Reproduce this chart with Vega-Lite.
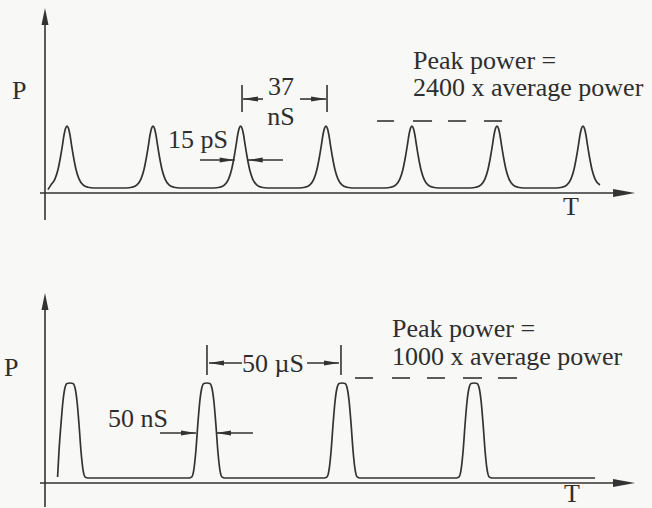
{
  "$schema": "https://vega.github.io/schema/vega-lite/v6.json",
  "background": "#f8f8f6",
  "padding": 0,
  "spacing": 0,
  "config": {"view": {"stroke": null}, "text": {"font": "Liberation Serif, Times New Roman, DejaVu Serif, serif"}},
  "resolve": {"scale": {"x": "independent", "y": "independent"}},
  "datasets": {
    "topTrace": [
      {"x": -8.2, "y": 0.05}, {"x": -6.9, "y": 0.122}, {"x": -5.2, "y": 0.208}, {"x": -3.9, "y": 0.348}, {"x": -2.8, "y": 0.538}, {"x": -1.9, "y": 0.726}, {"x": -1.3, "y": 0.862}, {"x": -0.65, "y": 0.963}, {"x": 0, "y": 1.0}, {"x": 0.65, "y": 0.963}, {"x": 1.3, "y": 0.862}, {"x": 1.9, "y": 0.726}, {"x": 2.8, "y": 0.538}, {"x": 3.9, "y": 0.348}, {"x": 5.2, "y": 0.208}, {"x": 6.9, "y": 0.122}, {"x": 9.0, "y": 0.087}, {"x": 11.6, "y": 0.075},
      {"x": 25.4, "y": 0.075}, {"x": 28.0, "y": 0.087}, {"x": 30.1, "y": 0.122}, {"x": 31.8, "y": 0.208}, {"x": 33.1, "y": 0.348}, {"x": 34.2, "y": 0.538}, {"x": 35.1, "y": 0.726}, {"x": 35.7, "y": 0.862}, {"x": 36.35, "y": 0.963}, {"x": 37, "y": 1.0}, {"x": 37.65, "y": 0.963}, {"x": 38.3, "y": 0.862}, {"x": 38.9, "y": 0.726}, {"x": 39.8, "y": 0.538}, {"x": 40.9, "y": 0.348}, {"x": 42.2, "y": 0.208}, {"x": 43.9, "y": 0.122}, {"x": 46.0, "y": 0.087}, {"x": 48.6, "y": 0.075},
      {"x": 63.1, "y": 0.075}, {"x": 65.7, "y": 0.087}, {"x": 67.8, "y": 0.122}, {"x": 69.5, "y": 0.208}, {"x": 70.8, "y": 0.348}, {"x": 71.9, "y": 0.538}, {"x": 72.8, "y": 0.726}, {"x": 73.4, "y": 0.862}, {"x": 74.05, "y": 0.963}, {"x": 74.7, "y": 1.0}, {"x": 75.35, "y": 0.963}, {"x": 76.0, "y": 0.862}, {"x": 76.6, "y": 0.726}, {"x": 77.5, "y": 0.538}, {"x": 78.6, "y": 0.348}, {"x": 79.9, "y": 0.208}, {"x": 81.6, "y": 0.122}, {"x": 83.7, "y": 0.087}, {"x": 86.3, "y": 0.075},
      {"x": 99.8, "y": 0.075}, {"x": 102.4, "y": 0.087}, {"x": 104.5, "y": 0.122}, {"x": 106.2, "y": 0.208}, {"x": 107.5, "y": 0.348}, {"x": 108.6, "y": 0.538}, {"x": 109.5, "y": 0.726}, {"x": 110.1, "y": 0.862}, {"x": 110.75, "y": 0.963}, {"x": 111.4, "y": 1.0}, {"x": 112.05, "y": 0.963}, {"x": 112.7, "y": 0.862}, {"x": 113.3, "y": 0.726}, {"x": 114.2, "y": 0.538}, {"x": 115.3, "y": 0.348}, {"x": 116.6, "y": 0.208}, {"x": 118.3, "y": 0.122}, {"x": 120.4, "y": 0.087}, {"x": 123.0, "y": 0.075},
      {"x": 136.8, "y": 0.075}, {"x": 139.4, "y": 0.087}, {"x": 141.5, "y": 0.122}, {"x": 143.2, "y": 0.208}, {"x": 144.5, "y": 0.348}, {"x": 145.6, "y": 0.538}, {"x": 146.5, "y": 0.726}, {"x": 147.1, "y": 0.862}, {"x": 147.75, "y": 0.963}, {"x": 148.4, "y": 1.0}, {"x": 149.05, "y": 0.963}, {"x": 149.7, "y": 0.862}, {"x": 150.3, "y": 0.726}, {"x": 151.2, "y": 0.538}, {"x": 152.3, "y": 0.348}, {"x": 153.6, "y": 0.208}, {"x": 155.3, "y": 0.122}, {"x": 157.4, "y": 0.087}, {"x": 160.0, "y": 0.075},
      {"x": 173.4, "y": 0.075}, {"x": 176.0, "y": 0.087}, {"x": 178.1, "y": 0.122}, {"x": 179.8, "y": 0.208}, {"x": 181.1, "y": 0.348}, {"x": 182.2, "y": 0.538}, {"x": 183.1, "y": 0.726}, {"x": 183.7, "y": 0.862}, {"x": 184.35, "y": 0.963}, {"x": 185, "y": 1.0}, {"x": 185.65, "y": 0.963}, {"x": 186.3, "y": 0.862}, {"x": 186.9, "y": 0.726}, {"x": 187.8, "y": 0.538}, {"x": 188.9, "y": 0.348}, {"x": 190.2, "y": 0.208}, {"x": 191.9, "y": 0.122}, {"x": 194.0, "y": 0.087}, {"x": 196.6, "y": 0.075},
      {"x": 210.4, "y": 0.075}, {"x": 213.0, "y": 0.087}, {"x": 215.1, "y": 0.122}, {"x": 216.8, "y": 0.208}, {"x": 218.1, "y": 0.348}, {"x": 219.2, "y": 0.538}, {"x": 220.1, "y": 0.726}, {"x": 220.7, "y": 0.862}, {"x": 221.35, "y": 0.963}, {"x": 222, "y": 1.0}, {"x": 222.65, "y": 0.963}, {"x": 223.3, "y": 0.862}, {"x": 223.9, "y": 0.726}, {"x": 224.8, "y": 0.538}, {"x": 225.9, "y": 0.348}, {"x": 227.2, "y": 0.208}, {"x": 229.3, "y": 0.12}
    ],
    "botTrace": [
      {"x": -4.6, "y": 0.06}, {"x": -4.08, "y": 0.32}, {"x": -3.34, "y": 0.59}, {"x": -2.6, "y": 0.82}, {"x": -1.86, "y": 0.9525}, {"x": -1.11, "y": 0.995}, {"x": 0, "y": 1.0}, {"x": 1.11, "y": 0.995}, {"x": 1.86, "y": 0.9525}, {"x": 2.6, "y": 0.82}, {"x": 3.34, "y": 0.59}, {"x": 4.08, "y": 0.32}, {"x": 4.83, "y": 0.133}, {"x": 5.57, "y": 0.062}, {"x": 6.68, "y": 0.05},
      {"x": 44.12, "y": 0.05}, {"x": 45.23, "y": 0.062}, {"x": 45.97, "y": 0.133}, {"x": 46.72, "y": 0.32}, {"x": 47.46, "y": 0.59}, {"x": 48.2, "y": 0.82}, {"x": 48.94, "y": 0.9525}, {"x": 49.69, "y": 0.995}, {"x": 50.8, "y": 1.0}, {"x": 51.91, "y": 0.995}, {"x": 52.66, "y": 0.9525}, {"x": 53.4, "y": 0.82}, {"x": 54.14, "y": 0.59}, {"x": 54.88, "y": 0.32}, {"x": 55.63, "y": 0.133}, {"x": 56.37, "y": 0.062}, {"x": 57.48, "y": 0.05},
      {"x": 94.32, "y": 0.05}, {"x": 95.43, "y": 0.062}, {"x": 96.17, "y": 0.133}, {"x": 96.92, "y": 0.32}, {"x": 97.66, "y": 0.59}, {"x": 98.4, "y": 0.82}, {"x": 99.14, "y": 0.9525}, {"x": 99.89, "y": 0.995}, {"x": 101, "y": 1.0}, {"x": 102.11, "y": 0.995}, {"x": 102.86, "y": 0.9525}, {"x": 103.6, "y": 0.82}, {"x": 104.34, "y": 0.59}, {"x": 105.08, "y": 0.32}, {"x": 105.83, "y": 0.133}, {"x": 106.57, "y": 0.062}, {"x": 107.68, "y": 0.05},
      {"x": 143.32, "y": 0.05}, {"x": 144.43, "y": 0.062}, {"x": 145.17, "y": 0.133}, {"x": 145.92, "y": 0.32}, {"x": 146.66, "y": 0.59}, {"x": 147.4, "y": 0.82}, {"x": 148.14, "y": 0.9525}, {"x": 148.89, "y": 0.995}, {"x": 150, "y": 1.0}, {"x": 151.11, "y": 0.995}, {"x": 151.86, "y": 0.9525}, {"x": 152.6, "y": 0.82}, {"x": 153.34, "y": 0.59}, {"x": 154.08, "y": 0.32}, {"x": 154.83, "y": 0.133}, {"x": 155.57, "y": 0.062}, {"x": 156.68, "y": 0.05},
      {"x": 194.9, "y": 0.05}
    ],
    "topRules": [
      {"x": -9.47, "x2": -9.47, "y": -0.403, "y2": 2.62},
      {"x": -11.62, "x2": 240, "y": 0, "y2": 0},
      {"x": 75.3, "x2": 75.3, "y": 1.209, "y2": 1.612},
      {"x": 111.88, "x2": 111.88, "y": 1.209, "y2": 1.612},
      {"x": 75.73, "x2": 84.34, "y": 1.403, "y2": 1.403},
      {"x": 100.26, "x2": 111.45, "y": 1.403, "y2": 1.403},
      {"x": 57.23, "x2": 72.16, "y": 0.4925, "y2": 0.4925},
      {"x": 77.76, "x2": 92.94, "y": 0.4925, "y2": 0.4925},
      {"x": 133.39, "x2": 140.71, "y": 1.075, "y2": 1.075},
      {"x": 148.88, "x2": 157.06, "y": 1.075, "y2": 1.075},
      {"x": 163.94, "x2": 171.69, "y": 1.075, "y2": 1.075},
      {"x": 179.43, "x2": 187.18, "y": 1.075, "y2": 1.075}
    ],
    "botRules": [
      {"x": -9.28, "x2": -9.28, "y": -0.24, "y2": 1.75},
      {"x": -11.14, "x2": 205.7, "y": 0, "y2": 0},
      {"x": 50.85, "x2": 50.85, "y": 1.08, "y2": 1.38},
      {"x": 100.59, "x2": 100.59, "y": 1.08, "y2": 1.38},
      {"x": 51.6, "x2": 63.85, "y": 1.2, "y2": 1.2},
      {"x": 87.97, "x2": 99.85, "y": 1.2, "y2": 1.2},
      {"x": 33.41, "x2": 46.77, "y": 0.5, "y2": 0.5},
      {"x": 54.19, "x2": 67.93, "y": 0.5, "y2": 0.5},
      {"x": 105.79, "x2": 112.47, "y": 1.05, "y2": 1.05},
      {"x": 119.52, "x2": 126.21, "y": 1.05, "y2": 1.05},
      {"x": 132.52, "x2": 139.2, "y": 1.05, "y2": 1.05},
      {"x": 145.88, "x2": 152.93, "y": 1.05, "y2": 1.05},
      {"x": 158.87, "x2": 165.92, "y": 1.05, "y2": 1.05}
    ],
    "topHeads": [
      {"x": -9.47, "y": 2.761, "s": "up"},
      {"x": 244.4, "y": 0, "s": "axisRight"},
      {"x": 75.73, "y": 1.403, "s": "left"},
      {"x": 111.45, "y": 1.403, "s": "right"},
      {"x": 72.16, "y": 0.4925, "s": "right"},
      {"x": 77.76, "y": 0.4925, "s": "left"}
    ],
    "botHeads": [
      {"x": -9.28, "y": 1.9, "s": "up"},
      {"x": 209.73, "y": 0, "s": "axisRight"},
      {"x": 51.6, "y": 1.2, "s": "left"},
      {"x": 99.85, "y": 1.2, "s": "right"},
      {"x": 46.77, "y": 0.5, "s": "right"},
      {"x": 54.19, "y": 0.5, "s": "left"}
    ],
    "topTextL": [
      {"x": -23.67, "y": 1.403, "label": "P"},
      {"x": 148.88, "y": 1.851, "label": "Peak power ="},
      {"x": 148.88, "y": 1.448, "label": "2400 x average power"}
    ],
    "topTextC": [
      {"x": 216.87, "y": -0.328, "label": "T"},
      {"x": 56.37, "y": 0.672, "label": "15 pS"},
      {"x": 92.08, "y": 1.463, "label": "37"},
      {"x": 92.08, "y": 1.015, "label": "nS"}
    ],
    "botTextL": [
      {"x": -24.5, "y": 1.07, "label": "P"},
      {"x": 119.5, "y": 1.46, "label": "Peak power ="},
      {"x": 119.5, "y": 1.18, "label": "1000 x average power"}
    ],
    "botTextC": [
      {"x": 186.3, "y": -0.19, "label": "T"},
      {"x": 25.24, "y": 0.56, "label": "50 nS"},
      {"x": 75.36, "y": 1.11, "label": "50 µS"}
    ]
  },
  "vconcat": [
    {
      "width": 652,
      "height": 254,
      "encoding": {
        "x": {"field": "x", "type": "quantitative", "scale": {"domain": [-28.83, 251.7], "nice": false, "zero": false}, "axis": null},
        "y": {"field": "y", "type": "quantitative", "scale": {"domain": [-0.91, 2.881], "nice": false, "zero": false}, "axis": null}
      },
      "layer": [
        {"data": {"name": "topTrace"}, "mark": {"type": "line", "interpolate": "monotone", "color": "#333333", "strokeWidth": 1.7}},
        {"data": {"name": "topRules"}, "mark": {"type": "rule", "color": "#333333", "strokeWidth": 1.6}, "encoding": {"x2": {"field": "x2"}, "y2": {"field": "y2"}}},
        {"data": {"name": "topHeads"}, "mark": {"type": "point", "filled": true, "opacity": 1, "color": "#333333", "size": 100, "strokeWidth": 0},
          "encoding": {"shape": {"field": "s", "type": "nominal", "legend": null, "scale": {"domain": ["up", "axisRight", "right", "left"], "range": ["M0,0L0.7,3.4L-0.7,3.4Z", "M0,0L-4.4,-0.8L-4.4,0.8Z", "M0,0L-3,-0.5L-3,0.5Z", "M0,0L3,-0.5L3,0.5Z"]}}}},
        {"data": {"name": "topTextL"}, "mark": {"type": "text", "align": "left", "baseline": "alphabetic", "font": "Liberation Serif, Times New Roman, DejaVu Serif, serif", "fontSize": 26, "color": "#2e2e2e"}, "encoding": {"text": {"field": "label"}}},
        {"data": {"name": "topTextC"}, "mark": {"type": "text", "align": "center", "baseline": "alphabetic", "font": "Liberation Serif, Times New Roman, DejaVu Serif, serif", "fontSize": 26, "color": "#2e2e2e"}, "encoding": {"text": {"field": "label"}}}
      ]
    },
    {
      "width": 652,
      "height": 254,
      "encoding": {
        "x": {"field": "x", "type": "quantitative", "scale": {"domain": [-25.98, 216.04], "nice": false, "zero": false}, "axis": null},
        "y": {"field": "y", "type": "quantitative", "scale": {"domain": [-0.25, 2.29], "nice": false, "zero": false}, "axis": null}
      },
      "layer": [
        {"data": {"name": "botTrace"}, "mark": {"type": "line", "interpolate": "monotone", "color": "#333333", "strokeWidth": 1.7}},
        {"data": {"name": "botRules"}, "mark": {"type": "rule", "color": "#333333", "strokeWidth": 1.6}, "encoding": {"x2": {"field": "x2"}, "y2": {"field": "y2"}}},
        {"data": {"name": "botHeads"}, "mark": {"type": "point", "filled": true, "opacity": 1, "color": "#333333", "size": 100, "strokeWidth": 0},
          "encoding": {"shape": {"field": "s", "type": "nominal", "legend": null, "scale": {"domain": ["up", "axisRight", "right", "left"], "range": ["M0,0L0.7,3.4L-0.7,3.4Z", "M0,0L-4.4,-0.8L-4.4,0.8Z", "M0,0L-3,-0.5L-3,0.5Z", "M0,0L3,-0.5L3,0.5Z"]}}}},
        {"data": {"name": "botTextL"}, "mark": {"type": "text", "align": "left", "baseline": "alphabetic", "font": "Liberation Serif, Times New Roman, DejaVu Serif, serif", "fontSize": 26, "color": "#2e2e2e"}, "encoding": {"text": {"field": "label"}}},
        {"data": {"name": "botTextC"}, "mark": {"type": "text", "align": "center", "baseline": "alphabetic", "font": "Liberation Serif, Times New Roman, DejaVu Serif, serif", "fontSize": 26, "color": "#2e2e2e"}, "encoding": {"text": {"field": "label"}}}
      ]
    }
  ]
}
